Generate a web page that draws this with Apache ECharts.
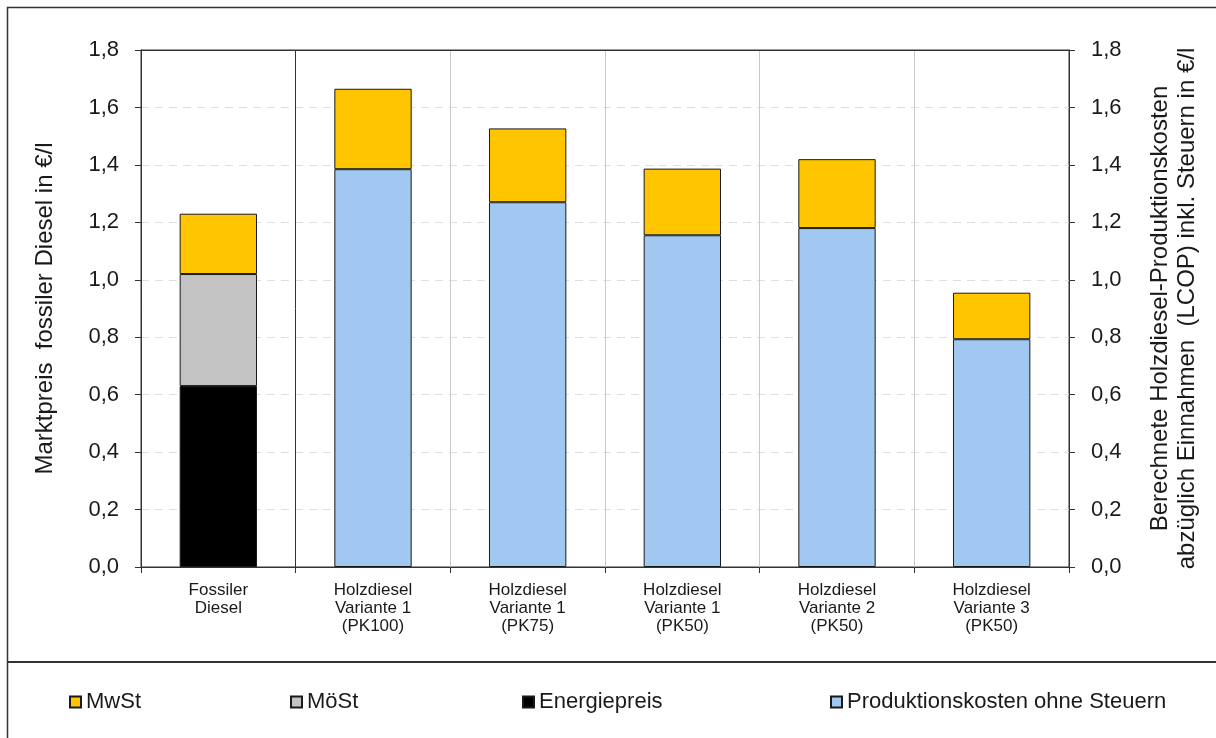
<!DOCTYPE html>
<html>
<head>
<meta charset="utf-8">
<script src="https://cdn.jsdelivr.net/npm/echarts@6/dist/echarts.min.js"></script>
<style>html,body{margin:0;padding:0;background:#fff;}#c{width:1216px;height:738px;}</style>
</head>
<body>
<div id="c"></div>
<script>
const categories = ['Fossiler\nDiesel', 'Holzdiesel\nVariante 1\n(PK100)', 'Holzdiesel\nVariante 1\n(PK75)', 'Holzdiesel\nVariante 1\n(PK50)', 'Holzdiesel\nVariante 2\n(PK50)', 'Holzdiesel\nVariante 3\n(PK50)'];
const energiepreis = [0.63, '-', '-', '-', '-', '-'];
const moest = [0.39, '-', '-', '-', '-', '-'];
const produktionskosten = ['-', 1.385, 1.27, 1.155, 1.18, 0.793];
const mwst = [0.21, 0.28, 0.257, 0.232, 0.24, 0.162];
const yMin = 0, yMax = 1.8, yStep = 0.2;
const leftAxisName = 'Marktpreis  fossiler Diesel in €/l';
const rightAxisName = 'Berechnete Holzdiesel-Produktionskosten\nabzüglich Einnahmen  (LCOP) inkl. Steuern in €/l';

const FONT = 'Liberation Sans';
const TXT = '#1a1a1a';
const chart = echarts.init(document.getElementById('c'), null, {renderer: 'canvas'});
const fmt = v => v.toFixed(1).replace('.', ',');
const itemBase = {borderColor: '#1a1a1a', borderWidth: 1};
function legend(name, left) {
  return {data: [name], left: left, top: 691, padding: 0, icon: 'rect', itemWidth: 11, itemHeight: 11,
    textStyle: {fontFamily: FONT, fontSize: 22, color: TXT}, selectedMode: false};
}
chart.setOption({
  animation: false,
  backgroundColor: '#fff',
  textStyle: {fontFamily: FONT},
  grid: {left: 141, right: 147, top: 50, bottom: 171, show: true, borderColor: '#333', borderWidth: 1},
  legend: [legend('MwSt', 69), legend('MöSt', 290), legend('Energiepreis', 522), legend('Produktionskosten ohne Steuern', 830)],
  xAxis: {
    type: 'category', data: categories,
    axisLine: {lineStyle: {color: '#333', width: 1}},
    axisTick: {show: true, length: 6, lineStyle: {color: '#333'}},
    axisLabel: {fontFamily: FONT, fontSize: 17, color: TXT, lineHeight: 18, margin: 14, interval: 0},
    splitLine: {show: true, lineStyle: {color: ['#333', '#333', '#c8c8c8', '#c8c8c8', '#c8c8c8', '#c8c8c8', '#333'], width: 1}}
  },
  yAxis: [{
    type: 'value', min: yMin, max: yMax, interval: yStep, position: 'left',
    name: leftAxisName, nameLocation: 'middle', nameRotate: 90, nameGap: 84,
    nameTextStyle: {fontFamily: FONT, fontSize: 24, color: TXT},
    axisLine: {show: true, lineStyle: {color: '#333'}},
    axisTick: {show: true, length: 6, lineStyle: {color: '#333'}},
    axisLabel: {fontFamily: FONT, fontSize: 22, color: TXT, margin: 22, formatter: fmt},
    splitLine: {show: true, showMinLine: false, showMaxLine: false, lineStyle: {color: '#dedede', type: [8, 6], width: 1}}
  }, {
    type: 'value', min: yMin, max: yMax, interval: yStep, position: 'right',
    name: rightAxisName, nameLocation: 'middle', nameRotate: 90, nameGap: 78,
    nameTextStyle: {fontFamily: FONT, fontSize: 24, color: TXT, lineHeight: 27, align: 'center'},
    axisLine: {show: true, lineStyle: {color: '#333'}},
    axisTick: {show: true, length: 6, lineStyle: {color: '#333'}},
    axisLabel: {fontFamily: FONT, fontSize: 22, color: TXT, margin: 22, formatter: fmt},
    splitLine: {show: false}
  }],
  series: [
    {name: 'Energiepreis', type: 'bar', stack: 'a', barWidth: '50%', data: energiepreis, itemStyle: Object.assign({color: '#000000'}, itemBase)},
    {name: 'MöSt', type: 'bar', stack: 'a', barWidth: '50%', data: moest, itemStyle: Object.assign({color: '#c3c3c3'}, itemBase)},
    {name: 'Produktionskosten ohne Steuern', type: 'bar', stack: 'a', barWidth: '50%', data: produktionskosten, itemStyle: Object.assign({color: '#a0c8f0'}, itemBase)},
    {name: 'MwSt', type: 'bar', stack: 'a', barWidth: '50%', data: mwst, itemStyle: Object.assign({color: '#ffc600'}, itemBase)}
  ],
  graphic: [
    {type: 'polyline', silent: true, shape: {points: [[7.5, 745], [7.5, 7.5], [1220, 7.5]]}, style: {stroke: '#333', lineWidth: 1.5, fill: null}},
    {type: 'line', silent: true, shape: {x1: 7, y1: 662, x2: 1220, y2: 662}, style: {stroke: '#333', lineWidth: 2}},
    {type: 'line', silent: true, z: 100, shape: {x1: 141, y1: 50.5, x2: 1069, y2: 50.5}, style: {stroke: '#333', lineWidth: 1}}
  ]
});
</script>
</body>
</html>
